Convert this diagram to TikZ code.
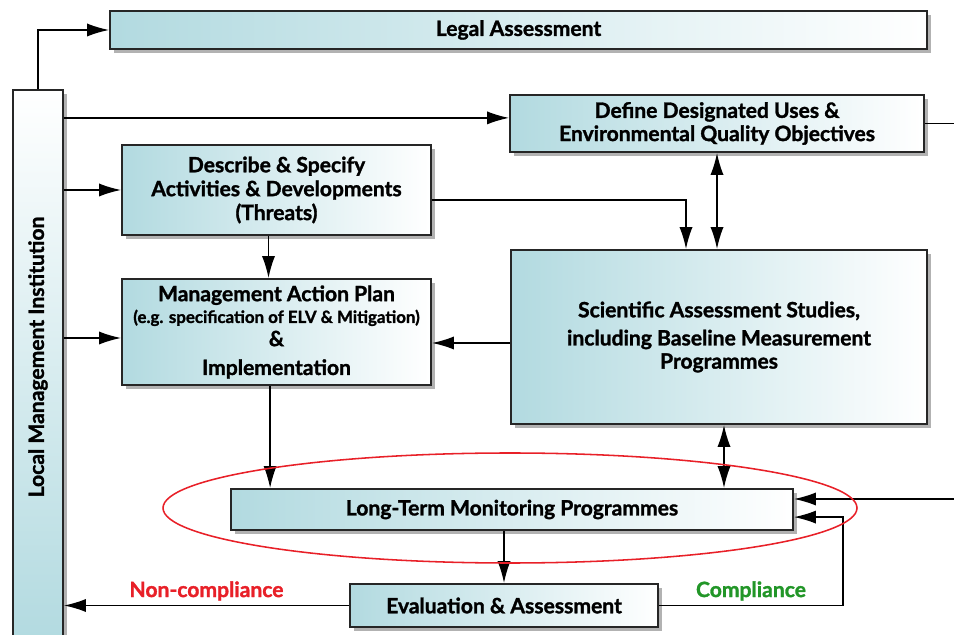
\documentclass[tikz,border=0pt]{standalone}
\usepackage{fontspec}
\setmainfont{Lato}[BoldFeatures={FakeBold=1.4}]
\usetikzlibrary{arrows.meta,shadows}
\definecolor{boxblue}{RGB}{178,218,224}
\definecolor{ncred}{RGB}{232,32,40}
\definecolor{cgreen}{RGB}{34,150,40}

\begin{document}
\begin{tikzpicture}[thick, >={Latex[length=0.55cm,width=0.33cm]}]
\tikzstyle{box} = [draw=black!85, line width=1.4pt, left color=boxblue, right color=white, align=center, inner sep=0pt,
	font=\fontsize{15}{16.5}\selectfont\bfseries,
	drop shadow={shadow xshift=0.1cm, shadow yshift=-0.1cm, fill=black!30, opacity=1}]
\tikzstyle{link} = [line width=1pt]
\tikzstyle{verdict} = [font=\fontsize{15}{16}\selectfont\bfseries, above, inner sep=3pt]
\useasboundingbox (0,0) rectangle (23.85,15.85);

\node[box, minimum width=20.425cm, minimum height=0.95cm] (legal) at (12.9625,15.1) {Legal Assessment};
\node[box, top color=white, bottom color=boxblue, minimum width=1.25cm, minimum height=13.8cm] (lmi) at (0.95,6.7)
	{\rotatebox{90}{\hspace{0.45cm}Local Management Institution}};
\node[box, minimum width=10.35cm, minimum height=1.425cm] (eqo) at (17.925,12.7625)
	{Define Designated Uses \&\\Environmental Quality Objectives};
\node[box, minimum width=7.725cm, minimum height=2.25cm] (threats) at (6.9125,11.1)
	{Describe \& Specify\\[0.5pt]Activities \& Developments\\[0.5pt](Threats)};
\node[box, minimum width=7.725cm, minimum height=2.65cm] (map) at (6.9125,7.55)
	{Management Action Plan\\[-1pt]{\fontsize{12}{13}\selectfont(e.g. specification of ELV \& Mitigation)}\\[0pt]\&\\[4pt]Implementation};
\node[box, minimum width=10.4cm, minimum height=4.35cm] (sas) at (17.975,7.425)
	{Scientific Assessment Studies,\\[3.5pt]including Baseline Measurement\\Programmes};
\node[box, minimum width=14.05cm, minimum height=1.025cm] (ltm) at (12.8,3.1125)
	{Long-Term Monitoring Programmes};
\node[box, minimum width=7.7cm, minimum height=1.075cm] (eval) at (12.6,0.7125)
	{Evaluation \& Assessment};

\coordinate (extout) at (23.85,12.76);
\coordinate (extin) at (23.85,3.375);

\draw[link, ->] (lmi.north) |- (legal.west);
\draw[link, ->] ([yshift=0.14cm]eqo.west -| lmi.east) -- ([yshift=0.14cm]eqo.west);
\draw[link, ->] (threats.west -| lmi.east) -- (threats.west);
\draw[link, ->] ([yshift=-0.15cm]map.west -| lmi.east) -- ([yshift=-0.15cm]map.west);
\draw[link] (eqo.east) -- (eqo.east -| extout);

\draw[link, ->] ([xshift=-0.2cm]threats.south) -- ([xshift=-0.2cm]map.north);
\draw[link, ->] ([yshift=-0.25cm]threats.east) -| ([xshift=-0.825cm]sas.north);
\draw[link, <->] (eqo.south) -- (eqo.south |- sas.north);
\draw[link, ->] ([yshift=-0.15cm]sas.west) -- ([yshift=-0.15cm]sas.west -| map.east);

\draw[link, ->] ([xshift=-0.16cm]map.south) -- ([xshift=-0.16cm]map.south |- ltm.north);
\draw[link, <->] ([xshift=0.125cm]sas.south) -- ([xshift=0.125cm]sas.south |- ltm.north);
\draw[link, ->] (extin) -- (extin -| ltm.east);
\draw[link, ->] (eval.north |- ltm.south) -- (eval.north);

\draw[link, ->] (eval.west) -- node[verdict, text=ncred] {Non-compliance} (eval.west -| lmi.east);
\draw[link, ->] (eval.east) -- node[verdict, text=cgreen] {Compliance} ++(4.6,0) |- ([yshift=-0.19cm]ltm.east);

\draw[ncred, line width=1.1pt] (12.75,3.15) ellipse [x radius=8.675, y radius=1.375];
\end{tikzpicture}
\end{document}
